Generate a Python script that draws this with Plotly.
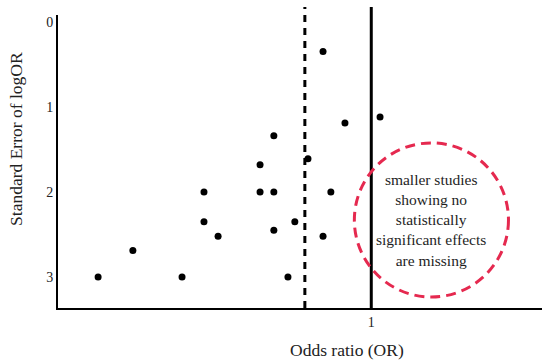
import plotly.graph_objects as go

# Study estimates (odds ratio position, standard error of logOR)
odds_ratio = [0.128, 0.239, 0.396, 0.466, 0.466, 0.511, 0.645, 0.645, 0.689, 0.689,
              0.689, 0.734, 0.756, 0.798, 0.846, 0.846, 0.871, 0.916, 1.028]
std_error = [3.0, 2.69, 3.0, 2.0, 2.35, 2.52, 1.68, 2.0, 1.34, 2.0,
             2.45, 3.0, 2.35, 1.61, 0.35, 2.52, 2.0, 1.19, 1.12]

pooled_or = 0.788      # dashed line
null_or = 1.0          # solid line
y_ticks = [0, 1, 2, 3]
x_ticks = [1]
circle_text = "smaller studies<br>showing no<br>statistically<br>significant effects<br>are missing"

serif = "Liberation Serif, Times New Roman, serif"

fig = go.Figure()
fig.add_trace(go.Scatter(
    x=odds_ratio, y=std_error, mode="markers",
    marker=dict(size=7, color="black"), showlegend=False, hoverinfo="skip"))

fig.add_shape(type="line", xref="x", yref="paper", x0=pooled_or, x1=pooled_or,
              y0=0, y1=1.027, line=dict(color="black", width=3, dash="7px,6px"), layer="below")
fig.add_shape(type="line", xref="x", yref="paper", x0=null_or, x1=null_or,
              y0=0, y1=1.027, line=dict(color="black", width=3), layer="below")

# dashed red circle marking the missing region
cx, cy, rx, ry = 1.192, 2.33, 0.246, 0.906
fig.add_shape(type="circle", xref="x", yref="y", x0=cx - rx, x1=cx + rx,
              y0=cy - ry, y1=cy + ry, line=dict(color="#e5294f", width=3, dash="10px,6px"))
fig.add_annotation(x=cx, y=cy, xref="x", yref="y", text=circle_text, showarrow=False,
                   font=dict(family=serif, size=15.5, color="#1e1e1e"), align="center")

fig.add_annotation(xref="paper", yref="paper", x=-0.0868, y=0.577, text="Standard Error of logOR",
                   textangle=-90, showarrow=False, xanchor="center", yanchor="middle",
                   font=dict(family=serif, size=17.5, color="#222"))
fig.add_annotation(xref="paper", yref="paper", x=0.597, y=-0.143, text="Odds ratio (OR)",
                   showarrow=False, xanchor="center", yanchor="middle",
                   font=dict(family=serif, size=17.5, color="#222"))

fig.update_xaxes(range=[0, 1.545], tickvals=x_ticks, ticktext=[str(t) for t in x_ticks],
                 showgrid=False, zeroline=False, showline=True, linecolor="black", linewidth=2,
                 ticks="", tickfont=dict(family=serif, size=14, color="#222"))
fig.update_yaxes(range=[3.365, -0.08], tickvals=y_ticks, ticktext=[str(t) for t in y_ticks],
                 showgrid=False, zeroline=False, showline=True, linecolor="black", linewidth=2,
                 ticks="", tickfont=dict(family=serif, size=14, color="#222"))

fig.update_layout(width=550, height=363, margin=dict(l=58, r=8, t=15, b=55),
                  plot_bgcolor="white", paper_bgcolor="white")

fig.write_html("out.html", config={"displayModeBar": False},
               post_script="document.body.style.margin='0';document.body.style.overflow='hidden';")
